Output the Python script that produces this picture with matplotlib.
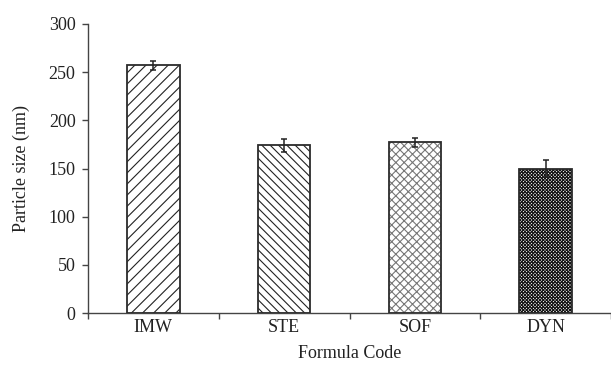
import matplotlib
matplotlib.use("Agg")
import matplotlib.pyplot as plt
import numpy as np

# particle size per formula
codes = ["IMW", "STE", "SOF", "DYN"]
sizes = [257, 174, 177, 150]
errs = [5, 7, 5, 9]
hatches = ["///", "\\\\\\\\", "xxxx", "xxxxxxxxxx"]
hatch_cols = ["#222222", "#222222", "#777777", "#111111"]

plt.rcParams["font.family"] = ["Liberation Serif", "DejaVu Serif"]
plt.rcParams["hatch.linewidth"] = 0.8

dpi = 100
fig = plt.figure(figsize=(611 / dpi, 374 / dpi), dpi=dpi)
ax = fig.add_axes([88 / 611, 1 - 313 / 374, 523 / 611, 289 / 374])

x = np.arange(len(codes))
for i in range(len(codes)):
    ax.bar(x[i], sizes[i], width=0.4, color="white", hatch=hatches[i],
           edgecolor=hatch_cols[i], linewidth=0, zorder=2)
ax.bar(x, sizes, width=0.4, color="none", edgecolor="#2b2b2b", linewidth=1.3, zorder=3)
ax.errorbar(x, sizes, yerr=errs, fmt="none", ecolor="#222222", elinewidth=1.1,
            capsize=2.5, capthick=1.1, zorder=4)

ax.set_xlim(-0.5, 3.5)
ax.set_ylim(0, 300)
ax.set_yticks(np.arange(0, 301, 50))
ax.set_xticks(x)
ax.set_xticklabels(codes)
ax.set_xticks(np.arange(-0.5, 4, 1), minor=True)
ax.tick_params(axis="x", which="major", length=0, pad=4, labelsize=13, labelcolor="#222222")
ax.tick_params(axis="x", which="minor", length=4, width=1.0, color="#444444")
ax.tick_params(axis="y", length=4, width=1.0, color="#444444", pad=5, labelsize=13,
               labelcolor="#222222")

for s in ["top", "right"]:
    ax.spines[s].set_visible(False)
for s in ["left", "bottom"]:
    ax.spines[s].set_color("#444444")
    ax.spines[s].set_linewidth(1.0)

ax.set_xlabel("Formula Code", fontsize=13, color="#222222", labelpad=7)
ax.set_ylabel("Particle size (nm)", fontsize=13, color="#222222", labelpad=13)

fig.savefig("out.png", dpi=dpi)
